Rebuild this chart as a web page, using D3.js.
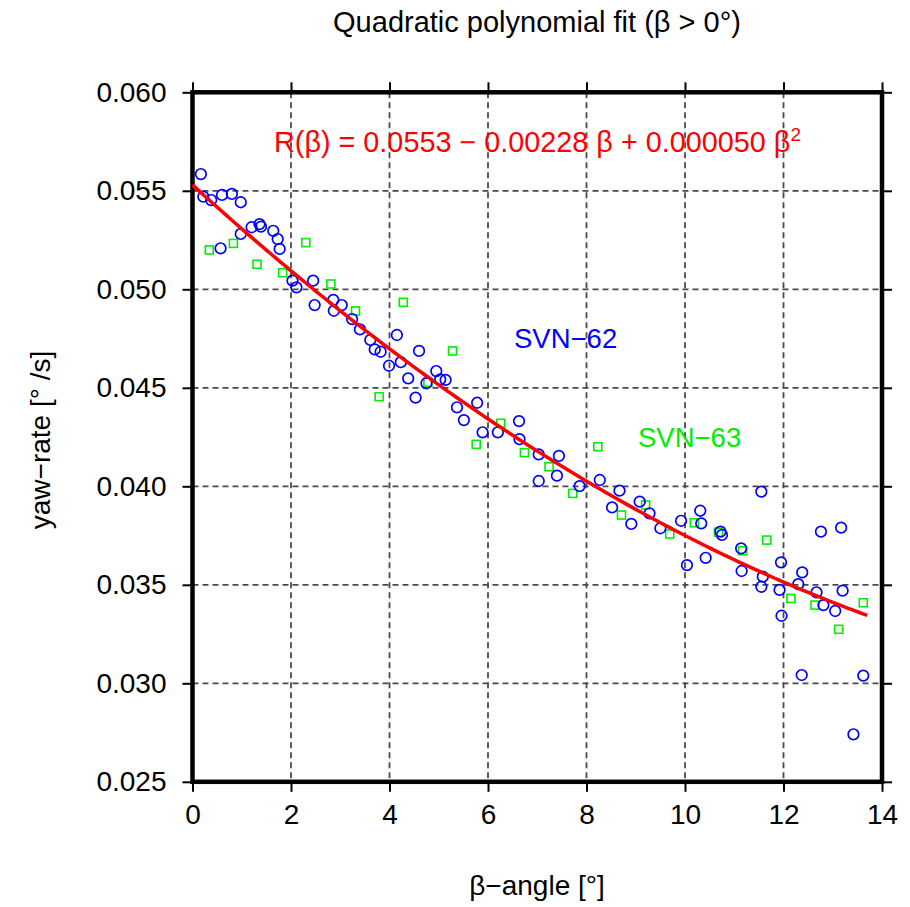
<!DOCTYPE html>
<html>
<head>
<meta charset="utf-8">
<script src="https://cdn.jsdelivr.net/npm/d3@7"></script>
<style>
  body { margin: 0; background: #fff; }
  svg { display: block; font-family: "Liberation Sans", Arial, sans-serif; }
</style>
</head>
<body>
<div id="chart"></div>
<script>
// SVN-62 (blue circles): beta angle [deg], yaw rate [deg/s]
var svn62_beta = [0.17, 0.22, 0.38, 0.60, 0.80, 0.98, 0.57, 0.98, 1.20, 1.36, 1.39, 1.64, 1.73, 1.77,
    2.03, 2.11, 2.45, 2.48, 2.86, 3.03, 2.87, 3.24, 3.40, 3.61, 3.70, 3.82, 4.15, 3.99, 4.23, 4.38,
    4.53, 4.60, 4.95, 5.03, 5.14, 4.75, 5.37, 5.51, 5.78, 5.89, 6.20, 6.63, 6.64, 7.03, 7.44, 7.03,
    7.40, 7.86, 8.27, 8.67, 8.52, 8.91, 9.08, 9.28, 9.50, 9.92, 10.31, 10.33, 10.72, 10.75, 10.04,
    10.42, 11.14, 11.15, 11.55, 11.58, 11.55, 11.95, 11.92, 11.96, 12.38, 12.30, 12.37, 12.67, 12.81,
    13.05, 13.20, 12.76, 13.17, 13.62, 13.42];
var svn62_rate = [0.05585, 0.0547, 0.05453, 0.05479, 0.05484, 0.05442, 0.05208, 0.05281, 0.05315, 0.05331,
    0.05318, 0.05297, 0.05255, 0.05205, 0.05044, 0.0501, 0.05044, 0.0492, 0.04946, 0.0492, 0.04891,
    0.04849, 0.04797, 0.04743, 0.04695, 0.04683, 0.04768, 0.04612, 0.0463, 0.04548, 0.0445, 0.04687,
    0.04585, 0.04543, 0.0454, 0.04523, 0.04401, 0.04336, 0.04424, 0.04274, 0.04274, 0.04331, 0.04239,
    0.04162, 0.04154, 0.04027, 0.04054, 0.04001, 0.04032, 0.03978, 0.03893, 0.03809, 0.03922, 0.03863,
    0.03787, 0.03825, 0.03876, 0.03812, 0.0377, 0.03753, 0.036, 0.03637, 0.03685, 0.0357, 0.03973,
    0.03541, 0.0349, 0.03614, 0.03474, 0.03343, 0.03563, 0.03503, 0.03042, 0.03462, 0.03397, 0.03367,
    0.0347, 0.0377, 0.0379, 0.03039, 0.02741];

// SVN-63 (green squares)
var svn63_beta = [0.34, 0.83, 1.31, 1.83, 2.30, 2.81, 3.31, 3.79, 4.28, 4.78, 5.28, 5.76, 6.26, 6.74,
    7.24, 7.72, 8.23, 8.71, 9.20, 9.69, 10.19, 10.68, 11.17, 11.66, 12.15, 12.64, 13.12, 13.62];
var svn63_rate = [0.0520, 0.05233, 0.05127, 0.05084, 0.05237, 0.05027, 0.0489, 0.04455, 0.04934, 0.04528,
    0.04687, 0.04213, 0.0432, 0.04171, 0.04099, 0.03964, 0.04201, 0.03854, 0.03905, 0.03758, 0.03815,
    0.03767, 0.03673, 0.03727, 0.03431, 0.03397, 0.03274, 0.03409];

// fit R(b) = c0 + c1 b + c2 b^2
var fit_coef = [0.0553, -0.00228, 0.000050];
var fit_range = [0, 13.7];

var x_ticks = [0, 2, 4, 6, 8, 10, 12, 14];
var y_ticks = [0.025, 0.030, 0.035, 0.040, 0.045, 0.050, 0.055, 0.060];

var width = 910, height = 907;
var margin = {top: 92.3, right: 28, bottom: 125.2, left: 192.5};
var w = width - margin.left - margin.right;
var h = height - margin.top - margin.bottom;

var svg = d3.select('#chart').append('svg')
    .attr('width', width)
    .attr('height', height);

var g = svg.append('g')
    .attr('transform', 'translate(' + margin.left + ',' + margin.top + ')');

var x = d3.scaleLinear().domain([0, 14]).range([0, w]);
var y = d3.scaleLinear().domain([0.025, 0.060]).range([h, 0]);

// grid
g.append('g').selectAll('line.vg')
    .data(x_ticks.slice(1, -1))
    .enter().append('line')
    .attr('x1', function(d){ return x(d); })
    .attr('x2', function(d){ return x(d); })
    .attr('y1', 0).attr('y2', h)
    .attr('stroke', '#4a4a4a').attr('stroke-width', 1.8)
    .attr('stroke-dasharray', '6,4');
g.append('g').selectAll('line.hg')
    .data(y_ticks.slice(1, -1))
    .enter().append('line')
    .attr('y1', function(d){ return y(d); })
    .attr('y2', function(d){ return y(d); })
    .attr('x1', 0).attr('x2', w)
    .attr('stroke', '#4a4a4a').attr('stroke-width', 1.8)
    .attr('stroke-dasharray', '6,4');

// axes, ticks on all four sides
function styleAxis(sel){
    sel.select('.domain').remove();
    sel.selectAll('.tick line').attr('stroke', '#000').attr('stroke-width', 2);
    sel.selectAll('.tick text').attr('font-size', 28).attr('fill', '#000')
        .attr('font-family', '"Liberation Sans", Arial, sans-serif');
}
g.append('g')
    .attr('transform', 'translate(0,' + h + ')')
    .call(d3.axisBottom(x).tickValues(x_ticks).tickSize(10).tickPadding(12).tickFormat(d3.format('d')))
    .call(styleAxis);
g.append('g')
    .call(d3.axisTop(x).tickValues(x_ticks).tickSize(10).tickFormat(''))
    .call(styleAxis);
g.append('g')
    .call(d3.axisLeft(y).tickValues(y_ticks).tickSize(10).tickPadding(16).tickFormat(d3.format('.3f')))
    .call(styleAxis);
g.append('g')
    .attr('transform', 'translate(' + w + ',0)')
    .call(d3.axisRight(y).tickValues(y_ticks).tickSize(10).tickFormat(''))
    .call(styleAxis);

// frame
g.append('rect')
    .attr('x', 0).attr('y', 0).attr('width', w).attr('height', h)
    .attr('fill', 'none').attr('stroke', '#000').attr('stroke-width', 4.5);

// points
var pts62 = svn62_beta.map(function(b, i){ return [b, svn62_rate[i]]; });
var pts63 = svn63_beta.map(function(b, i){ return [b, svn63_rate[i]]; });

g.append('g').selectAll('rect')
    .data(pts63)
    .enter().append('rect')
    .attr('x', function(d){ return x(d[0]) - 4; })
    .attr('y', function(d){ return y(d[1]) - 4; })
    .attr('width', 8).attr('height', 8)
    .attr('fill', 'none').attr('stroke', '#00ee00').attr('stroke-width', 1.6);

g.append('g').selectAll('circle')
    .data(pts62)
    .enter().append('circle')
    .attr('cx', function(d){ return x(d[0]); })
    .attr('cy', function(d){ return y(d[1]); })
    .attr('r', 5.3)
    .attr('fill', 'none').attr('stroke', '#0000ff').attr('stroke-width', 1.7);

// fit curve
var fitPts = d3.range(fit_range[0], fit_range[1] + 0.001, 0.1).map(function(b){
    return [b, fit_coef[0] + fit_coef[1] * b + fit_coef[2] * b * b];
});
g.append('path')
    .datum(fitPts)
    .attr('d', d3.line().x(function(d){ return x(d[0]); }).y(function(d){ return y(d[1]); }))
    .attr('fill', 'none').attr('stroke', '#ff0000').attr('stroke-width', 3.5);

// texts
var formula = g.append('text')
    .attr('x', 274 - margin.left).attr('y', 152 - margin.top)
    .attr('fill', '#ff0000').attr('font-size', 28.8)
    .text('R(β) = 0.0553 − 0.00228 β + 0.000050 β');
formula.append('tspan').attr('dy', -11).attr('font-size', 19).text('2');

g.append('text')
    .attr('x', 514 - margin.left).attr('y', 348 - margin.top)
    .attr('fill', '#0000ff').attr('font-size', 27.5)
    .text('SVN−62');
g.append('text')
    .attr('x', 638 - margin.left).attr('y', 447 - margin.top)
    .attr('fill', '#00ee00').attr('font-size', 27.5)
    .text('SVN−63');

svg.append('text')
    .attr('x', 537).attr('y', 32)
    .attr('text-anchor', 'middle').attr('font-size', 29)
    .text('Quadratic polynomial fit (β > 0°)');

svg.append('text')
    .attr('x', 537).attr('y', 895)
    .attr('text-anchor', 'middle').attr('font-size', 28)
    .text('β−angle [°]');

svg.append('text')
    .attr('transform', 'translate(50,440) rotate(-90)')
    .attr('text-anchor', 'middle').attr('font-size', 28)
    .text('yaw−rate [° /s]');
</script>
</body>
</html>
